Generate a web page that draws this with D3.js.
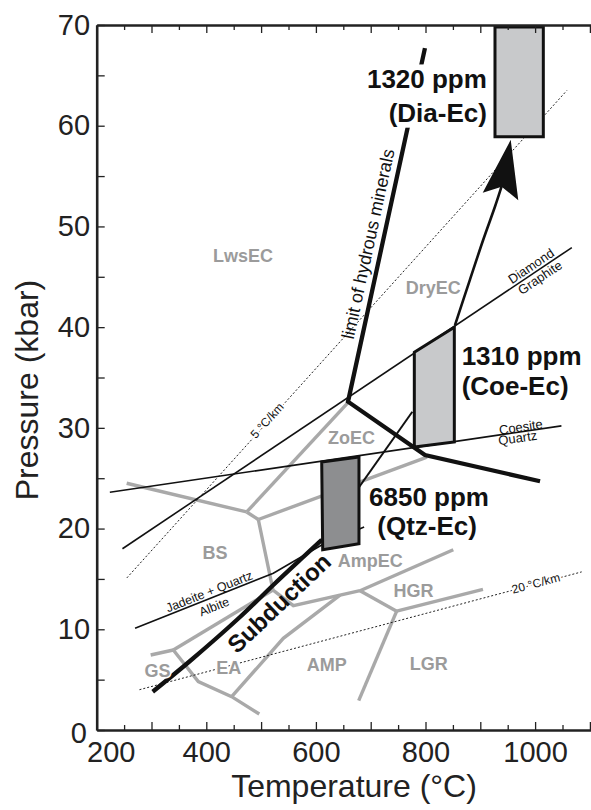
<!DOCTYPE html>
<html>
<head>
<meta charset="utf-8">
<script src="https://cdn.jsdelivr.net/npm/d3@7"></script>
<style>
  body { margin: 0; background: #fff; }
  svg { display: block; font-family: "Liberation Sans", Arial, Helvetica, sans-serif; }
</style>
</head>
<body>
<div class="chart"></div>
<script>
// tick labels
var xTickLabels = [200, 400, 600, 800, 1000];
var yTickLabels = [0, 10, 20, 30, 40, 50, 60, 70];

// metamorphic facies boundaries, [T (C), P (kbar)]
var faciesLines = [
  [[254.7, 24.5], [473.7, 21.65]],
  [[473.7, 21.65], [658.6, 32.5]],
  [[473.7, 21.65], [494.9, 20.9]],
  [[494.9, 20.9], [802.7, 27.1]],
  [[494.9, 20.9], [521.7, 13.9], [558.8, 12.34], [680.5, 13.83]],
  [[339.8, 7.94], [521.7, 13.9]],
  [[298.5, 7.45], [339.8, 7.94]],
  [[339.8, 7.94], [385.4, 4.8], [446.3, 3.31], [496.7, 1.59]],
  [[644, 13.4], [540.5, 9.1], [446.3, 3.31]],
  [[680.5, 13.83], [850.7, 17.9]],
  [[680.5, 13.83], [747.4, 11.8]],
  [[747.4, 11.8], [904.9, 13.97]],
  [[747.4, 11.8], [678.1, 2.91]]
];
var faciesNames = ["LwsEC", "DryEC", "ZoEC", "BS", "AmpEC", "HGR", "AMP", "LGR", "EA", "GS"];
var faciesT = [467, 814, 665, 416, 699, 778, 620, 806, 441, 311];
var faciesP = [47.1, 43.9, 29.0, 17.6, 16.8, 13.8, 6.5, 6.6, 6.2, 5.9];

// reactions
var coesiteQuartz = [[224, 23.6], [1048, 30.2]];
var diamondGraphite = [[247, 18.0], [1067, 47.9]];
var jadeiteAlbite = [[270, 10.1], [522.3, 15.56], [610.6, 18.37], [688, 20.16]];

// geotherms
var geotherm5 = [[255, 15.1], [1058, 63.5]];
var geotherm20 = [[278, 4.0], [1085, 15.7]];

// limit of hydrous minerals
var hydrousLimit = [[799, 67.7], [658.6, 32.6], [799, 27.3], [1009, 24.7]];

// subduction path
var subduction = [[302.2, 3.8], [370.3, 6.85], [461.5, 11.22], [522.3, 14.4], [571, 16.88], [610.6, 18.87]];
var subductionThin = [[610.6, 18.87], [776, 31.6]];
var deepPath = [[853.8, 40.2], [881, 44.7], [905.5, 48.7], [927, 52.0], [939, 54.0]];
var arrowHead = [[955.5, 58.6], [904.4, 53.35], [939, 53.95], [969.3, 52.6]];

// sample boxes
var qtzBox = [[610.6, 26.6], [678.6, 27.1], [678.6, 18.5], [612.4, 17.9]];
var coeBox = [[779.6, 37.5], [852.6, 40.0], [852.6, 28.6], [779.6, 28.1]];
var diaBox = [[926.8, 69.8], [1015, 69.8], [1015, 58.9], [926.8, 58.9]];

var ppmLabels = ["1320 ppm", "(Dia-Ec)", "1310 ppm", "(Coe-Ec)", "6850 ppm", "(Qtz-Ec)"];
var ppmT = [912, 912, 866, 866, 697, 712];
var ppmP = [63.7, 60.4, 36.2, 33.3, 22.2, 19.4];
var ppmAnchor = ["end", "end", "start", "start", "start", "start"];

var w = 591, h = 810;
var x = d3.scaleLinear().domain([200, 1102]).range([96.7, 591]);
var y = d3.scaleLinear().domain([0, 70]).range([730, 25]);

var svg = d3.select('.chart').append('svg')
  .attr('width', w)
  .attr('height', h);

svg.append('rect').attr('width', w).attr('height', h).attr('fill', '#fff');

var line = d3.line().x(function(d){ return x(d[0]); }).y(function(d){ return y(d[1]); });
var curve = d3.line().x(function(d){ return x(d[0]); }).y(function(d){ return y(d[1]); })
  .curve(d3.curveCatmullRom);

function angle(a, b) {
  return Math.atan2(y(b[1]) - y(a[1]), x(b[0]) - x(a[0])) * 180 / Math.PI;
}

// facies boundaries
svg.append('g').selectAll('path').data(faciesLines).enter()
  .append('path')
  .attr('d', line)
  .attr('fill', 'none')
  .attr('stroke', '#a9a9a9')
  .attr('stroke-width', 3.4);

// geotherms
svg.append('g').selectAll('path').data([geotherm5, geotherm20]).enter()
  .append('path')
  .attr('d', line)
  .attr('fill', 'none')
  .attr('stroke', '#222')
  .attr('stroke-width', 1)
  .attr('stroke-dasharray', '2,2');

// reactions
svg.append('g').selectAll('path').data([coesiteQuartz, diamondGraphite, jadeiteAlbite]).enter()
  .append('path')
  .attr('d', line)
  .attr('fill', 'none')
  .attr('stroke', '#111')
  .attr('stroke-width', 1.6);

// subduction path
svg.append('path').datum(subductionThin)
  .attr('d', line)
  .attr('fill', 'none')
  .attr('stroke', '#111')
  .attr('stroke-width', 2);

svg.append('path').datum(deepPath)
  .attr('d', curve)
  .attr('fill', 'none')
  .attr('stroke', '#111')
  .attr('stroke-width', 2.6);

svg.append('path').datum(arrowHead)
  .attr('d', function(d){ return line(d) + 'Z'; })
  .attr('fill', '#111');

svg.append('path').datum(hydrousLimit)
  .attr('d', line)
  .attr('fill', 'none')
  .attr('stroke', '#111')
  .attr('stroke-width', 4.3);

svg.append('path').datum(subduction)
  .attr('d', curve)
  .attr('fill', 'none')
  .attr('stroke', '#111')
  .attr('stroke-width', 4.3);

// boxes
svg.append('g').selectAll('path').data([qtzBox, coeBox, diaBox]).enter()
  .append('path')
  .attr('d', function(d){ return line(d) + 'Z'; })
  .attr('fill', function(d, i){ return i === 0 ? '#8d8e90' : '#c8c9cb'; })
  .attr('stroke', '#111')
  .attr('stroke-width', 3);

// axes
var xAxis = d3.axisBottom(x)
  .tickValues(d3.range(200, 1101, 50))
  .tickSizeInner(-8).tickSizeOuter(0).tickPadding(11)
  .tickFormat(function(d){ return xTickLabels.indexOf(d) >= 0 ? d : ''; });

var gx = svg.append('g').attr('transform', 'translate(0,' + y(0) + ')').call(xAxis);
gx.selectAll('.tick line').attr('y2', function(d){ return d % 100 === 0 ? -8 : -5; });
gx.selectAll('.tick text').filter(function(d){ return d === 200; }).attr('dx', 14);

var xTop = d3.axisTop(x)
  .tickValues(d3.range(200, 1101, 50))
  .tickSizeInner(-8).tickSizeOuter(0)
  .tickFormat('');
var gt = svg.append('g').attr('transform', 'translate(0,' + y(70) + ')').call(xTop);
gt.selectAll('.tick line').attr('y2', function(d){ return d % 100 === 0 ? 8 : 5; });

var yAxis = d3.axisLeft(y)
  .tickValues(d3.range(0, 71, 5))
  .tickSizeInner(-8).tickSizeOuter(0).tickPadding(6.7)
  .tickFormat(function(d){ return yTickLabels.indexOf(d) >= 0 ? d : ''; });
var gy = svg.append('g').attr('transform', 'translate(' + x(200) + ',0)').call(yAxis);
gy.selectAll('.tick text').filter(function(d){ return d === 0; }).attr('dx', -3).attr('dy', '0.42em');

svg.selectAll('.domain').attr('stroke', '#222').attr('stroke-width', 2.6);
svg.selectAll('.tick line').attr('stroke', '#222').attr('stroke-width', 1.3);
svg.selectAll('.tick text')
  .attr('font-size', 29)
  .attr('font-family', '"Liberation Sans", Arial, sans-serif')
  .attr('fill', '#222');

svg.append('text')
  .attr('x', 354).attr('y', 797)
  .attr('text-anchor', 'middle')
  .attr('font-size', 32)
  .attr('fill', '#222')
  .text('Temperature (°C)');

svg.append('text')
  .attr('transform', 'translate(38,390) rotate(-90)')
  .attr('text-anchor', 'middle')
  .attr('font-size', 32)
  .attr('fill', '#222')
  .text('Pressure (kbar)');

// facies labels
svg.append('g').selectAll('text').data(faciesNames).enter()
  .append('text')
  .attr('x', function(d, i){ return x(faciesT[i]); })
  .attr('y', function(d, i){ return y(faciesP[i]); })
  .attr('dy', '0.35em')
  .attr('text-anchor', 'middle')
  .attr('font-size', 18)
  .attr('font-weight', 'bold')
  .attr('fill', '#9b9b9b')
  .attr('stroke', '#fff')
  .attr('stroke-width', 3)
  .attr('paint-order', 'stroke')
  .text(function(d){ return d; });

// line labels
var lineLabels = [
  ['Coesite', 973.9, 30.09, coesiteQuartz, 13, false],
  ['Quartz', 968.2, 29.0, coesiteQuartz, 13, false],
  ['Diamond', 992.5, 46.07, diamondGraphite, 13, false],
  ['Graphite', 1009, 44.93, diamondGraphite, 13, false],
  ['Jadeite + Quartz', 405.3, 13.75, jadeiteAlbite, 12.5, false],
  ['Albite', 414.4, 12.25, jadeiteAlbite, 12.5, false],
  ['5 °C/km', 510.6, 30.73, geotherm5, 12, true],
  ['20 °C/km', 1001.3, 14.57, geotherm20, 12, true]
];
svg.append('g').selectAll('text').data(lineLabels).enter()
  .append('text')
  .attr('transform', function(d){
    return 'translate(' + x(d[1]) + ',' + y(d[2]) + ') rotate(' + angle(d[3][0], d[3][1]) + ')';
  })
  .attr('dy', '0.35em')
  .attr('text-anchor', 'middle')
  .attr('font-size', function(d){ return d[4]; })
  .attr('fill', '#111')
  .attr('stroke', function(d){ return d[5] ? '#fff' : 'none'; })
  .attr('stroke-width', 4)
  .attr('paint-order', 'stroke')
  .text(function(d){ return d[0]; });

svg.append('text')
  .attr('transform', 'translate(' + x(695) + ',' + y(48.26) + ') rotate(' + angle(hydrousLimit[1], hydrousLimit[0]) + ')')
  .attr('dy', '0.35em')
  .attr('text-anchor', 'middle')
  .attr('font-size', 18)
  .attr('fill', '#111')
  .text('limit of hydrous minerals');

svg.append('text')
  .attr('transform', 'translate(' + x(532.7) + ',' + y(12.61) + ') rotate(' + angle(subduction[2], subduction[4]) + ')')
  .attr('dy', '0.35em')
  .attr('text-anchor', 'middle')
  .attr('font-size', 24)
  .attr('font-weight', 'bold')
  .attr('fill', '#111')
  .text('Subduction');

// water content labels
[[0, 1], [2, 3], [4, 5]].forEach(function(pair, k){
  var g = svg.append('g');
  g.selectAll('text').data(pair).enter()
    .append('text')
    .attr('x', function(i){ return x(ppmT[i]); })
    .attr('y', function(i){ return y(ppmP[i]); })
    .attr('text-anchor', function(i){ return ppmAnchor[i]; })
    .attr('font-size', 26)
    .attr('font-weight', 'bold')
    .attr('fill', '#111')
    .text(function(i){ return ppmLabels[i]; });
  if (k === 0) {
    var bb = g.node().getBBox();
    g.insert('rect', 'text')
      .attr('x', bb.x - 1).attr('y', bb.y)
      .attr('width', bb.width + 2).attr('height', bb.height)
      .attr('fill', '#fff');
  }
});
</script>
</body>
</html>
